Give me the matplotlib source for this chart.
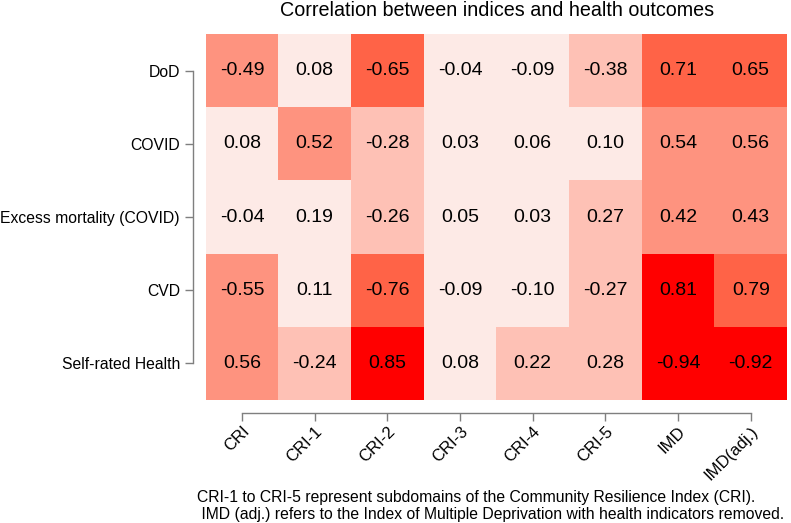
import matplotlib
matplotlib.use("Agg")
import matplotlib.pyplot as plt
from matplotlib.colors import ListedColormap, BoundaryNorm
import numpy as np

plt.rcParams['font.family'] = ['Liberation Sans', 'DejaVu Sans']

# health outcomes (rows) vs indices (columns)
outcomes = ['DoD', 'COVID', 'Excess mortality (COVID)', 'CVD', 'Self-rated Health']
indices = ['CRI', 'CRI-1', 'CRI-2', 'CRI-3', 'CRI-4', 'CRI-5', 'IMD', 'IMD(adj.)']

dod = [-0.49, 0.08, -0.65, -0.04, -0.09, -0.38, 0.71, 0.65]
covid = [0.08, 0.52, -0.28, 0.03, 0.06, 0.10, 0.54, 0.56]
excess = [-0.04, 0.19, -0.26, 0.05, 0.03, 0.27, 0.42, 0.43]
cvd = [-0.55, 0.11, -0.76, -0.09, -0.10, -0.27, 0.81, 0.79]
srh = [0.56, -0.24, 0.85, 0.08, 0.22, 0.28, -0.94, -0.92]

title = 'Correlation between indices and health outcomes'
note1 = 'CRI-1 to CRI-5 represent subdomains of the Community Resilience Index (CRI).'
note2 = ' IMD (adj.) refers to the Index of Multiple Deprivation with health indicators removed.'

corr = np.array([dod, covid, excess, cvd, srh])

# colour bins on |r|
cmap = ListedColormap(['#fdeae6', '#fec1b5', '#fe937f', '#ff6347', '#ff0000'])
norm = BoundaryNorm([0, 0.2, 0.4, 0.6, 0.8, 1.0], cmap.N)

fig = plt.figure(figsize=(7.91, 5.23), dpi=100)
ax = fig.add_axes([0.260, 0.235, 0.735, 0.700])

ax.pcolormesh(np.abs(corr), cmap=cmap, norm=norm)
ax.set_xlim(0, len(indices))
ax.set_ylim(len(outcomes), 0)

for i in range(len(outcomes)):
    for j in range(len(indices)):
        ax.text(j + 0.5, i + 0.5, f'{corr[i, j]:.2f}', ha='center', va='center',
                fontsize=14, color='black')

# spines first: set_position resets the ticks
for s in ['top', 'right']:
    ax.spines[s].set_visible(False)
ax.spines['left'].set_position(('outward', 9))
ax.spines['bottom'].set_position(('outward', 9))
ax.spines['left'].set_bounds(0.5, len(outcomes) - 0.5)
ax.spines['bottom'].set_bounds(0.5, len(indices) - 0.5)
for s in ['left', 'bottom']:
    ax.spines[s].set_color('#7f7f7f')
    ax.spines[s].set_linewidth(1)

ax.tick_params(axis='both', color='#7f7f7f', length=6, width=1)
ax.tick_params(axis='y', pad=3.5, labelsize=11.3)
ax.tick_params(axis='x', pad=2, labelsize=12)

ax.set_xticks(np.arange(len(indices)) + 0.5)
ax.set_xticklabels(indices, rotation=45, ha='right', rotation_mode='anchor')
ax.set_yticks(np.arange(len(outcomes)) + 0.5)
ax.set_yticklabels(outcomes)

fig.text(0.628, 0.980, title, ha='center', va='center', fontsize=14.2)
fig.text(0.249, 0.048, note1, ha='left', va='center', fontsize=11.3)
fig.text(0.249, 0.016, note2, ha='left', va='center', fontsize=11.3)

fig.savefig('out.png', dpi=100)
